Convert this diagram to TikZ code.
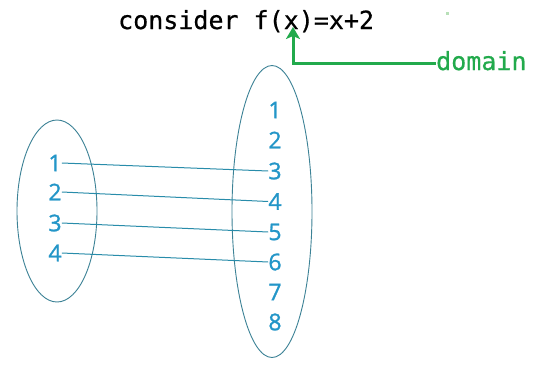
\documentclass[tikz,border=0pt]{standalone}
\usepackage{fontspec}
\newfontfamily\codefont[FakeBold=0.6]{DejaVu Sans Mono}
\newfontfamily\numfont[FakeBold=1.2]{Open Sans}
\usetikzlibrary{arrows.meta}
\definecolor{numblue}{RGB}{35,150,200}
\definecolor{linkteal}{RGB}{40,140,170}
\definecolor{ellcol}{RGB}{60,130,150}
\definecolor{domgreen}{RGB}{34,170,76}
\tikzset{
  num/.style={font=\numfont\fontsize{23}{23}\selectfont, text=numblue, inner sep=0pt},
  link/.style={draw=linkteal, line width=1pt},
  setell/.style={draw=ellcol, line width=0.9pt},
  code/.style={font=\codefont\fontsize{25}{25}\selectfont, inner sep=0pt},
}
\begin{document}
\begin{tikzpicture}[x=1pt,y=-1pt]
\useasboundingbox (0,0) rectangle (536,365);
\fill[white] (0,0) rectangle (536,365);
% title
\node[code, anchor=base west] (title) at (118,29) {consider f(x)=x+2};
\coordinate (xtip) at (293,27);
\node[code, text=domgreen, anchor=base west] (domain) at (436,70) {domain};
\draw[domgreen, line width=3pt, -{Stealth[length=12pt,width=14pt,inset=3pt]}] (domain.west |- 0,63) -- (293,63) -- (xtip);
\fill[gray!60!green!40] (446,12) rectangle (449,15);
% ellipses
\draw[setell] (57,211) ellipse [x radius=40, y radius=91];
\draw[setell] (272,211.5) ellipse [x radius=40, y radius=146];
% left numbers
\foreach \i/\y in {1/163,2/192,3/223,4/253}{
  \node[num] (l\i) at (55,\y) {\i};
}
% right numbers
\foreach \i/\y in {1/110,2/140,3/171,4/201.5,5/232,6/262,7/292,8/322}{
  \node[num] (r\i) at (275,\y) {\i};
}
\draw[link] (l1.east) -- (r3.west);
\draw[link] (l2.east) -- (r4.west);
\draw[link] (l3.east) -- (r5.west);
\draw[link] (l4.east) -- (r6.west);
\end{tikzpicture}
\end{document}
